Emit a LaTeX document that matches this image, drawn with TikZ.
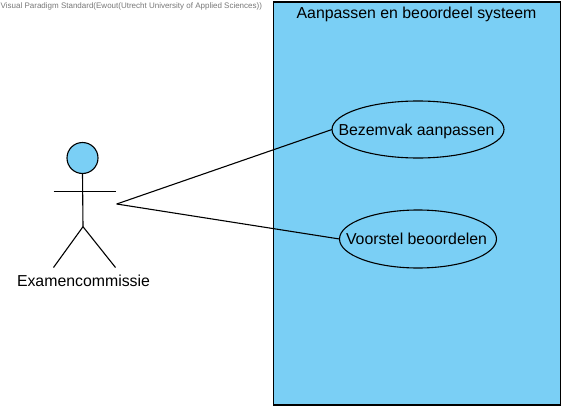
\documentclass[tikz,border=0pt]{standalone}
\usepackage{fontspec}
\setmainfont{Liberation Sans}
\usetikzlibrary{shapes.geometric}
\definecolor{umlblue}{RGB}{122,207,245}
\definecolor{wmgray}{RGB}{120,120,120}
\newcommand{\uctext}[1]{\raisebox{-5.5pt}[0pt][0pt]{\makebox[0pt][c]{\hspace{-3pt}#1}}}
\tikzset{
  umlline/.style={draw=black,line width=1.1pt},
  usecase/.style={ellipse,draw=black,line width=1.1pt,fill=umlblue,inner sep=0pt,outer sep=0pt,font=\fontsize{15.85}{18}\selectfont},
  plainlabel/.style={inner sep=0pt,outer sep=0pt,font=\fontsize{15.85}{18}\selectfont}
}
\begin{document}
\begin{tikzpicture}[x=1pt,y=-1pt]
\useasboundingbox (0,0) rectangle (567,412);
\fill[white] (0,0) rectangle (567,412);
\node[anchor=west,inner sep=0pt,text=wmgray,font=\fontsize{8}{10}\selectfont] (wm) at (0.5,6.5) {Visual Paradigm Standard(Ewout(Utrecht University of Applied Sciences))};
\node[draw=black,line width=1.1pt,fill=umlblue,minimum width=287pt,minimum height=403pt,inner sep=0pt,outer sep=0pt] (sys) at (417,203.5) {};
\node[plainlabel] (systitle) at (416.5,14.5) {Aanpassen en beoordeel systeem};
\node[usecase,minimum width=172pt,minimum height=57pt] (uc1) at (418,129.5) {\uctext{Bezemvak aanpassen}};
\node[usecase,minimum width=157pt,minimum height=58pt] (uc2) at (418,239) {\uctext{Voorstel beoordelen}};
\node[circle,draw=black,line width=1.1pt,fill=umlblue,minimum size=31pt,inner sep=0pt,outer sep=0pt] (head) at (82.5,158) {};
\coordinate (hip) at (83,226.7);
\coordinate (armL) at (53.5,191.5);
\coordinate (armR) at (115.5,191.5);
\coordinate (legL) at (53.5,267.5);
\coordinate (legR) at (115.5,267.5);
\coordinate (actorEnd) at (116.7,204);
\draw[umlline] (head.south) -- (hip);
\draw[umlline] (armL) -- (armR);
\draw[umlline] (legL) -- (hip) -- (legR);
\node[plainlabel] (actorname) at (83.5,280.5) {Examencommissie};
\draw[umlline] (actorEnd) -- (uc1.west);
\draw[umlline] (actorEnd) -- (uc2.west);
\end{tikzpicture}
\end{document}
